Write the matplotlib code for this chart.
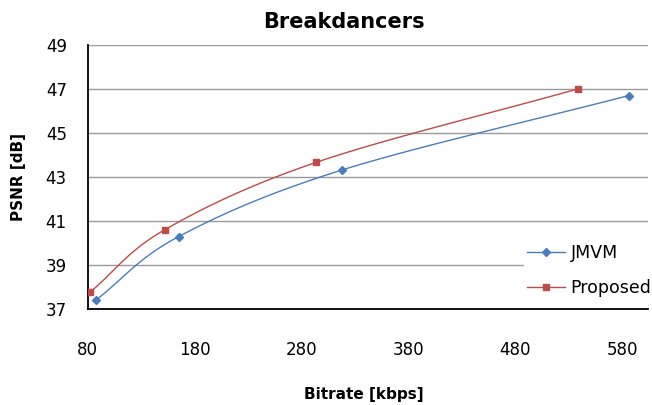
import numpy as np
import matplotlib as mpl
mpl.use("Agg")
import matplotlib.pyplot as plt

# values
jmvm_rate = [87.5, 165, 318, 586]
jmvm_psnr = [37.38, 40.27, 43.30, 46.68]
prop_rate = [82.5, 152, 294, 539]
prop_psnr = [37.76, 40.58, 43.65, 46.99]
xticks = [80, 180, 280, 380, 480, 580]
yticks = [37, 39, 41, 43, 45, 47, 49]


def smooth(x, y, n=40):
    # Catmull-Rom style curve through the points (Excel "smoothed line")
    x = np.asarray(x, float); y = np.asarray(y, float)
    px = np.r_[2 * x[0] - x[1], x, 2 * x[-1] - x[-2]]
    py = np.r_[2 * y[0] - y[1], y, 2 * y[-1] - y[-2]]
    xs, ys = [], []
    t = np.linspace(0, 1, n)
    for i in range(1, len(px) - 2):
        for p, out in ((px, xs), (py, ys)):
            p0, p1, p2, p3 = p[i - 1:i + 3]
            out.append(0.5 * ((2 * p1) + (-p0 + p2) * t + (2 * p0 - 5 * p1 + 4 * p2 - p3) * t ** 2
                              + (-p0 + 3 * p1 - 3 * p2 + p3) * t ** 3))
    return np.concatenate(xs), np.concatenate(ys)


mpl.rcParams.update({"font.family": "DejaVu Sans"})
fig = plt.figure(figsize=(6.52, 4.05), dpi=100)
ax = fig.add_axes([0.1345, 0.238, 0.859, 0.652])

blue, red = "#4A7EBB", "#BE4B48"
sx, sy = smooth(jmvm_rate, jmvm_psnr)
ax.plot(sx, sy, color=blue, lw=1.0, zorder=3)
ax.plot(jmvm_rate, jmvm_psnr, "D", color=blue, ms=4, zorder=4)
sx, sy = smooth(prop_rate, prop_psnr)
ax.plot(sx, sy, color=red, lw=1.0, zorder=3)
ax.plot(prop_rate, prop_psnr, "s", color=red, ms=5, zorder=4)

# legend entries
ax.plot([], [], "-D", color=blue, lw=1.0, ms=4, label="JMVM")
ax.plot([], [], "-s", color=red, lw=1.0, ms=5, label="Proposed")

ax.set_xlim(80, 604)
ax.set_ylim(37, 49)
ax.set_xticks(xticks)
ax.set_yticks(yticks)
ax.tick_params(length=0, labelsize=12)
ax.tick_params(axis="x", pad=23)
ax.tick_params(axis="y", pad=15)
ax.grid(axis="y", color="#9a9a9a", lw=1.0)
ax.set_axisbelow(True)
for s in ("top", "right"):
    ax.spines[s].set_visible(False)
for s in ("left", "bottom"):
    ax.spines[s].set_linewidth(1.3)
    ax.spines[s].set_color("black")

fig.text(0.528, 0.946, "Breakdancers", fontsize=15, fontweight="bold", ha="center", va="center")
fig.text(0.558, 0.026, "Bitrate [kbps]", fontsize=11, fontweight="bold", ha="center", va="center")
fig.text(0.028, 0.563, "PSNR [dB]", fontsize=11, fontweight="bold", ha="center", va="center",
         rotation=90)

leg = fig.legend(loc="center left", bbox_to_anchor=(0.803, 0.332), frameon=True,
                 fontsize=12.5, handlelength=2.2, handletextpad=0.3, labelspacing=0.95,
                 borderpad=0.2, borderaxespad=0)
leg.get_frame().set_edgecolor("white")
leg.get_frame().set_facecolor("white")
leg.get_frame().set_alpha(1)

fig.savefig("out.png", dpi=100)
